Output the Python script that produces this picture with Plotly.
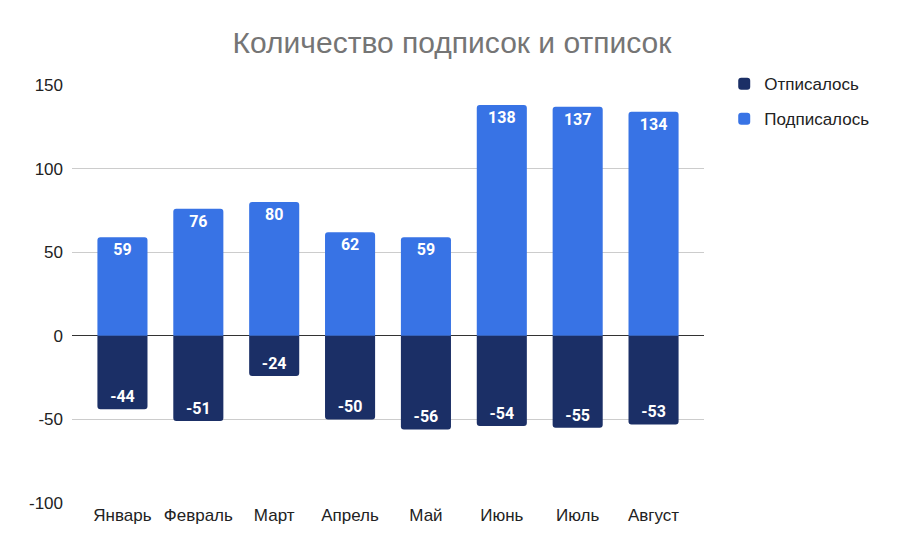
import plotly.graph_objects as go

months = ["Январь", "Февраль", "Март", "Апрель", "Май", "Июнь", "Июль", "Август"]
unsubscribed = [-44, -51, -24, -50, -56, -54, -55, -53]
subscribed = [59, 76, 80, 62, 59, 138, 137, 134]
y_ticks = [-100, -50, 0, 50, 100, 150]
y_tick_text = ["-100", "-50", "0", "50", "100", "150"]

FONT = "Liberation Sans, Arial, sans-serif"

fig = go.Figure()
fig.add_trace(go.Bar(
    x=months, y=unsubscribed, name="Отписалось", legendgroup="a",
    marker=dict(color="#1b2f66", line=dict(width=0)),
    text=[str(v) for v in unsubscribed], textposition="inside",
    insidetextanchor="end",
    textfont=dict(color="white", size=16, family="Roboto"),
    texttemplate="<b>%{text}</b>",
))
fig.add_trace(go.Bar(
    x=months, y=subscribed, name="Подписалось", legendgroup="b",
    marker=dict(color="#3873e5", line=dict(width=0)),
    text=[str(v) for v in subscribed], textposition="inside",
    insidetextanchor="end",
    textfont=dict(color="white", size=16, family="Roboto"),
    texttemplate="<b>%{text}</b>",
))

fig.update_layout(
    width=900, height=554,
    barmode="relative", bargap=0.34, barcornerradius=3,
    plot_bgcolor="white", paper_bgcolor="white",
    margin=dict(l=64, r=204, t=77, b=59),
    font=dict(family=FONT, size=17, color="#222222"),
    title=dict(text="Количество подписок и отписок", x=0.4933, xref="container",
               xanchor="center", y=0.938, yanchor="middle",
               font=dict(size=30, color="#757575", family=FONT)),
    legend=dict(x=1.032, xanchor="left", y=1.045, yanchor="top",
                traceorder="grouped", font=dict(size=17, color="#222222", family=FONT),
                itemwidth=30, tracegroupgap=10),
    showlegend=True,
)
fig.update_xaxes(range=[-0.665, 7.665], showgrid=False, showline=False, ticks="",
                 tickfont=dict(size=17, color="#222222", family=FONT))
fig.update_yaxes(range=[-100, 150], tickvals=y_ticks, ticktext=y_tick_text,
                 showgrid=True, gridcolor="#cccccc",
                 gridwidth=1, zeroline=True, zerolinecolor="#333333", zerolinewidth=1,
                 ticks="", tickfont=dict(size=17, color="#222222", family=FONT),
                 ticklabelstandoff=8)

fig.write_html("out.html")
